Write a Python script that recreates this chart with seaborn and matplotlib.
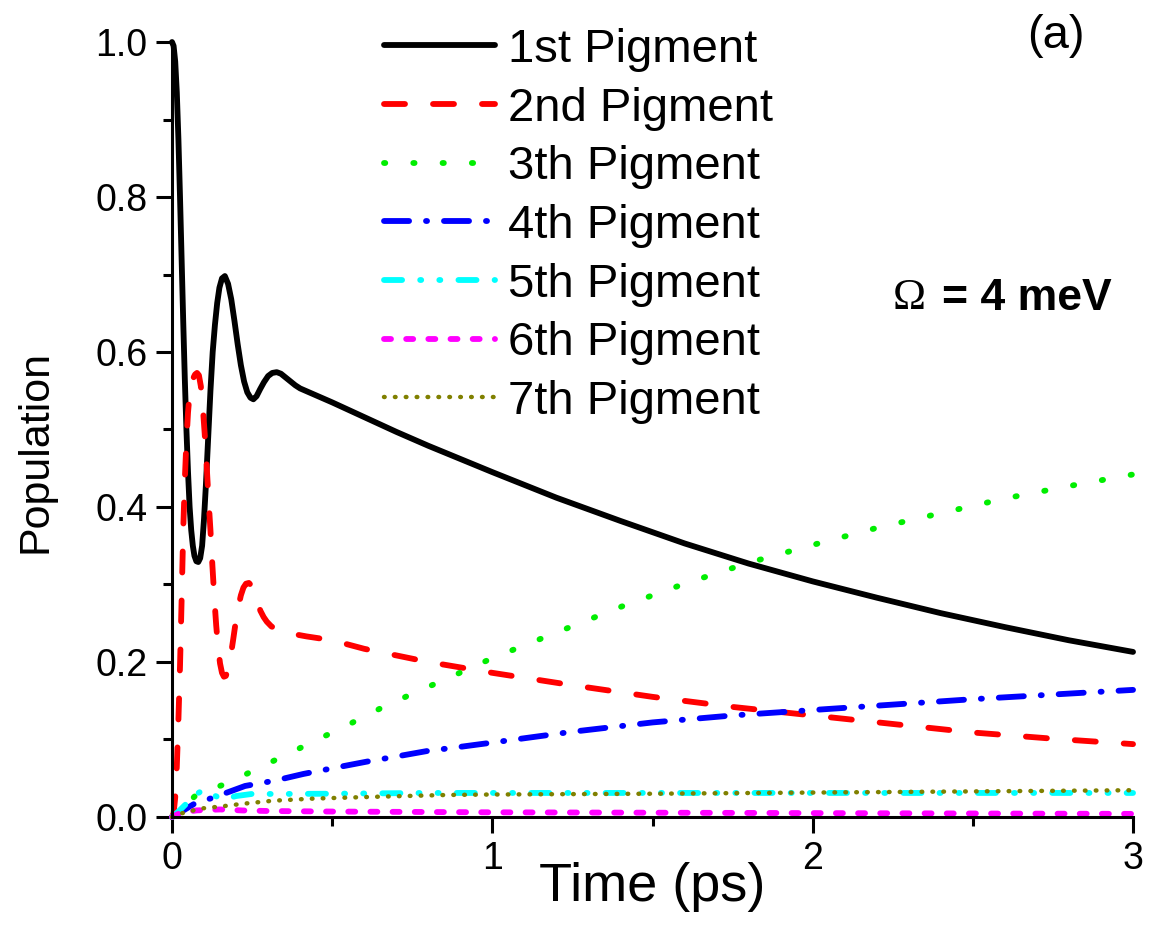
import matplotlib
matplotlib.use("Agg")
import matplotlib.pyplot as plt
from matplotlib.ticker import MultipleLocator, FuncFormatter
import seaborn as sns

# ---- population dynamics of the seven pigments (time in ps) ----
t_p1 = [0.000, 0.005, 0.010, 0.015, 0.020, 0.025, 0.030, 0.035, 0.040, 0.045,
        0.050, 0.055, 0.060, 0.065, 0.070, 0.076, 0.082, 0.088, 0.094, 0.100,
        0.106, 0.113, 0.120, 0.127, 0.134, 0.141, 0.148, 0.156, 0.165, 0.175,
        0.185, 0.195, 0.205, 0.215, 0.225, 0.235, 0.245, 0.254, 0.264, 0.275,
        0.287, 0.300, 0.313, 0.327, 0.340, 0.355, 0.370, 0.385, 0.400, 0.45,
        0.5, 0.6, 0.7, 0.8, 0.9, 1.0, 1.2, 1.4, 1.6, 1.8, 2.0, 2.2, 2.4, 2.6,
        2.8, 3.0]
p1 = [1.000, 0.995, 0.975, 0.935, 0.875, 0.800, 0.720, 0.640, 0.565, 0.500,
      0.445, 0.400, 0.370, 0.350, 0.337, 0.330, 0.329, 0.334, 0.350, 0.385,
      0.430, 0.490, 0.550, 0.600, 0.635, 0.663, 0.683, 0.695, 0.698, 0.688,
      0.668, 0.640, 0.610, 0.583, 0.562, 0.548, 0.541, 0.539, 0.543, 0.552,
      0.561, 0.569, 0.573, 0.574, 0.572, 0.567, 0.562, 0.557, 0.553, 0.544,
      0.535, 0.516, 0.497, 0.479, 0.462, 0.445, 0.412, 0.382, 0.353, 0.327,
      0.304, 0.283, 0.263, 0.245, 0.228, 0.213]

t_p2 = [0.000, 0.005, 0.010, 0.015, 0.020, 0.025, 0.030, 0.035, 0.040, 0.045,
        0.050, 0.055, 0.060, 0.066, 0.072, 0.078, 0.084, 0.090, 0.096, 0.102,
        0.108, 0.114, 0.120, 0.126, 0.132, 0.138, 0.144, 0.150, 0.156, 0.162,
        0.168, 0.175, 0.183, 0.191, 0.199, 0.207, 0.215, 0.223, 0.231, 0.240,
        0.249, 0.258, 0.267, 0.276, 0.286, 0.296, 0.310, 0.327, 0.35, 0.38,
        0.42, 0.452, 0.5, 0.6, 0.8, 1.0, 1.25, 1.5, 1.75, 2.0, 2.25, 2.5, 2.75,
        3.0]
p2 = [0.000, 0.005, 0.025, 0.065, 0.125, 0.195, 0.280, 0.370, 0.435, 0.485,
      0.522, 0.546, 0.558, 0.566, 0.571, 0.573, 0.570, 0.556, 0.530, 0.495,
      0.455, 0.410, 0.370, 0.325, 0.283, 0.247, 0.218, 0.198, 0.186, 0.181,
      0.182, 0.190, 0.207, 0.229, 0.252, 0.271, 0.286, 0.296, 0.301, 0.302,
      0.298, 0.289, 0.277, 0.266, 0.258, 0.252, 0.246, 0.242, 0.239, 0.236,
      0.233, 0.231, 0.228, 0.217, 0.200, 0.186, 0.170, 0.155, 0.142, 0.131,
      0.120, 0.109, 0.101, 0.094]

t_p3 = [0, 0.04, 0.08, 0.17, 0.26, 0.35, 0.45, 0.55, 0.65, 0.75, 0.85, 1.0, 1.2,
        1.4, 1.6, 1.8, 2.0, 2.2, 2.4, 2.6, 2.8, 3.0]
p3 = [0, 0.015, 0.030, 0.043, 0.061, 0.079, 0.099, 0.119, 0.140, 0.159, 0.177,
      0.205, 0.238, 0.271, 0.301, 0.328, 0.351, 0.373, 0.392, 0.411, 0.427, 0.442]

t_p4 = [0, 0.03, 0.072, 0.129, 0.228, 0.322, 0.41, 0.511, 0.608, 0.70, 0.795,
        0.889, 1.0, 1.25, 1.5, 1.75, 2.0, 2.25, 2.5, 2.75, 3.0]
p4 = [0, 0.007, 0.0176, 0.025, 0.040, 0.047, 0.0555, 0.0637, 0.0714, 0.078, 0.085,
      0.0899, 0.096, 0.110, 0.122, 0.131, 0.138, 0.145, 0.152, 0.158, 0.164]

t_p5 = [0, 0.02, 0.046, 0.07, 0.098, 0.125, 0.16, 0.2, 0.249, 0.33, 0.5, 0.8, 1.0,
        1.5, 2.0, 2.5, 3.0]
p5 = [0, 0.007, 0.0176, 0.028, 0.0348, 0.029, 0.0226, 0.027, 0.0297, 0.0297,
      0.030, 0.031, 0.031, 0.031, 0.031, 0.031, 0.031]

t_p6 = [0, 0.02, 0.05, 0.077, 0.15, 0.22, 0.3, 0.5, 1.0, 1.5, 2.0, 2.5, 3.0]
p6 = [0, 0.004, 0.007, 0.0085, 0.0097, 0.0084, 0.0077, 0.007, 0.006, 0.0055,
      0.005, 0.0045, 0.004]

t_p7 = [0, 0.03, 0.093, 0.156, 0.22, 0.316, 0.441, 0.629, 0.858, 1.0, 1.5, 2.0,
        2.5, 3.0]
p7 = [0, 0.0047, 0.011, 0.0137, 0.017, 0.021, 0.0237, 0.026, 0.0284, 0.029,
      0.030, 0.0315, 0.033, 0.0345]

labels = ["1st Pigment", "2nd Pigment", "3th Pigment", "4th Pigment",
          "5th Pigment", "6th Pigment", "7th Pigment"]
colors = ["#000000", "#ff0000", "#00ee00", "#0000ff", "#00ffff", "#ff00ff", "#808000"]

sns.set_style("ticks")
plt.rcParams["font.family"] = ["Liberation Sans", "DejaVu Sans"]
plt.rcParams.update({"text.color": "black", "axes.labelcolor": "black",
                     "axes.edgecolor": "black", "xtick.color": "black",
                     "ytick.color": "black"})

fig = plt.figure(figsize=(11.49, 9.34), dpi=100)
ax = fig.add_axes([0.1497, 0.1253, 0.8364, 0.8297])

LW = 4.2
styles = [
    dict(linestyle="-", linewidth=LW),
    dict(linestyle=(0, (3.6, 4.8)), linewidth=LW),
    dict(linestyle=(0, (0.22, 4.8)), linewidth=LW),
    dict(linestyle=(0, (4.3, 2.9, 0.18, 2.9)), linewidth=LW),
    dict(linestyle=(0, (3.1, 3.1, 0.18, 3.1, 0.18, 3.1)), linewidth=LW),
    dict(linestyle=(0, (1.2, 2.6)), linewidth=LW),
    dict(linestyle=(0, (0.15, 2.3)), linewidth=3.2),
]
series = [(t_p1, p1), (t_p2, p2), (t_p3, p3), (t_p4, p4), (t_p5, p5), (t_p6, p6), (t_p7, p7)]

for (tx, py), lab, col, st in zip(series, labels, colors, styles):
    sns.lineplot(x=tx, y=py, ax=ax, color=col, label=lab, sort=False,
                 estimator=None, dash_capstyle="round", solid_capstyle="round",
                 solid_joinstyle="round", clip_on=False, **st)

ax.set_xlim(0, 3)
ax.set_ylim(0, 1.0)
ax.xaxis.set_major_locator(MultipleLocator(1))
ax.xaxis.set_minor_locator(MultipleLocator(0.5))
ax.yaxis.set_major_locator(MultipleLocator(0.2))
ax.yaxis.set_minor_locator(MultipleLocator(0.1))
ax.xaxis.set_major_formatter(FuncFormatter(lambda v, p: f"{v:.0f}"))
ax.yaxis.set_major_formatter(FuncFormatter(lambda v, p: f"{v:.1f}"))

for side in ("top", "right"):
    ax.spines[side].set_visible(False)
for side in ("left", "bottom"):
    ax.spines[side].set_linewidth(2.2)
    ax.spines[side].set_color("black")
ax.tick_params(which="major", direction="out", length=11.5, width=2.2,
               labelsize=27, pad=6, colors="black")
ax.tick_params(which="minor", direction="out", length=6.5, width=2.2, colors="black")

ax.set_xlabel("Time (ps)", fontsize=39)
ax.xaxis.set_label_coords(0.5, -0.058)
ax.set_ylabel("Population", fontsize=31)
ax.yaxis.set_label_coords(-0.1215, 0.472)

ax.legend(loc="upper left", bbox_to_anchor=(384 / 1149, 1 - 28 / 934),
          bbox_transform=fig.transFigure, frameon=False, fontsize=34,
          handlelength=2.34, handletextpad=0.28, labelspacing=0.31,
          borderpad=0, borderaxespad=0)

fig.text(1056 / 1149, 1 - 36 / 934, "(a)", fontsize=34, ha="center", va="center")
fig.text(893 / 1149, 1 - 298 / 934, "\u03a9", fontsize=32,
         family=["Liberation Serif", "DejaVu Serif"], ha="left", va="center")
fig.text(942 / 1149, 1 - 298 / 934, "= 4 meV", fontsize=32, fontweight="bold",
         ha="left", va="center")

fig.savefig("out.png", dpi=100)
